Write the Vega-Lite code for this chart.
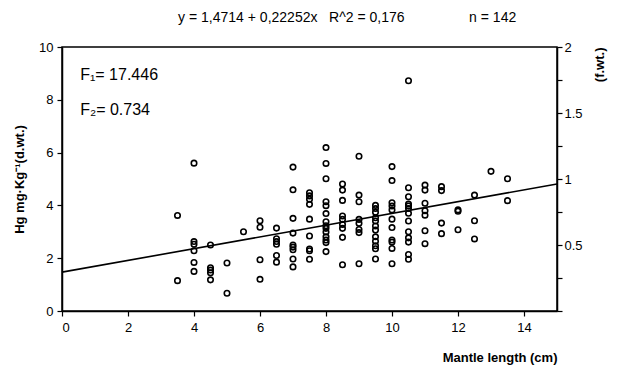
{
  "$schema": "https://vega.github.io/schema/vega-lite/v6.json",
  "width": 495,
  "height": 264,
  "autosize": {"type": "none"},
  "padding": {"left": 62, "top": 47, "right": 64, "bottom": 66},
  "background": "white",
  "config": {
    "font": "Liberation Sans",
    "view": {"stroke": "black", "strokeWidth": 1.5},
    "axis": {"domainColor": "black", "domainWidth": 1.5, "tickColor": "black", "tickWidth": 1.2, "labelColor": "black", "titleColor": "black", "labelFontSize": 13, "titleFontSize": 13, "titleFontWeight": "bold", "grid": false, "labelFont": "Liberation Sans", "titleFont": "Liberation Sans"}
  },
  "datasets": {
    "pts": [
      {"ml":3.5,"hg":3.62},{"ml":3.5,"hg":1.15},
      {"ml":4,"hg":5.6},{"ml":4,"hg":2.63},{"ml":4,"hg":2.53},{"ml":4,"hg":2.28},{"ml":4,"hg":1.84},{"ml":4,"hg":1.5},
      {"ml":4.5,"hg":2.5},{"ml":4.5,"hg":1.64},{"ml":4.5,"hg":1.55},{"ml":4.5,"hg":1.45},{"ml":4.5,"hg":1.18},
      {"ml":5,"hg":1.82},{"ml":5,"hg":0.67},
      {"ml":5.5,"hg":3.0},
      {"ml":6,"hg":3.42},{"ml":6,"hg":3.17},{"ml":6,"hg":1.94},{"ml":6,"hg":1.2},
      {"ml":6.5,"hg":3.14},{"ml":6.5,"hg":2.74},{"ml":6.5,"hg":2.63},{"ml":6.5,"hg":2.53},{"ml":6.5,"hg":2.1},{"ml":6.5,"hg":1.85},
      {"ml":7,"hg":5.45},{"ml":7,"hg":4.59},{"ml":7,"hg":3.51},{"ml":7,"hg":2.95},{"ml":7,"hg":2.5},{"ml":7,"hg":2.42},{"ml":7,"hg":2.32},{"ml":7,"hg":1.97},{"ml":7,"hg":1.67},
      {"ml":7.5,"hg":4.48},{"ml":7.5,"hg":4.36},{"ml":7.5,"hg":4.23},{"ml":7.5,"hg":4.04},{"ml":7.5,"hg":3.48},{"ml":7.5,"hg":2.84},{"ml":7.5,"hg":2.35},{"ml":7.5,"hg":2.28},{"ml":7.5,"hg":1.96},
      {"ml":8,"hg":6.19},{"ml":8,"hg":5.59},{"ml":8,"hg":5.01},{"ml":8,"hg":4.14},{"ml":8,"hg":3.99},{"ml":8,"hg":3.69},{"ml":8,"hg":3.38},{"ml":8,"hg":3.23},{"ml":8,"hg":3.13},{"ml":8,"hg":2.99},{"ml":8,"hg":2.81},{"ml":8,"hg":2.69},{"ml":8,"hg":2.59},{"ml":8,"hg":2.25},
      {"ml":8.5,"hg":4.81},{"ml":8.5,"hg":4.58},{"ml":8.5,"hg":4.19},{"ml":8.5,"hg":3.6},{"ml":8.5,"hg":3.47},{"ml":8.5,"hg":3.28},{"ml":8.5,"hg":3.13},{"ml":8.5,"hg":2.79},{"ml":8.5,"hg":1.75},
      {"ml":9,"hg":5.86},{"ml":9,"hg":4.39},{"ml":9,"hg":4.14},{"ml":9,"hg":3.47},{"ml":9,"hg":3.32},{"ml":9,"hg":3.09},{"ml":9,"hg":2.97},{"ml":9,"hg":1.79},
      {"ml":9.5,"hg":4.0},{"ml":9.5,"hg":3.88},{"ml":9.5,"hg":3.74},{"ml":9.5,"hg":3.53},{"ml":9.5,"hg":3.41},{"ml":9.5,"hg":3.22},{"ml":9.5,"hg":3.07},{"ml":9.5,"hg":2.81},{"ml":9.5,"hg":2.64},{"ml":9.5,"hg":2.47},{"ml":9.5,"hg":2.36},{"ml":9.5,"hg":1.97},
      {"ml":10,"hg":5.47},{"ml":10,"hg":4.94},{"ml":10,"hg":4.1},{"ml":10,"hg":3.98},{"ml":10,"hg":3.83},{"ml":10,"hg":3.48},{"ml":10,"hg":3.16},{"ml":10,"hg":2.69},{"ml":10,"hg":2.61},{"ml":10,"hg":2.37},{"ml":10,"hg":1.79},
      {"ml":10.5,"hg":8.72},{"ml":10.5,"hg":4.67},{"ml":10.5,"hg":4.33},{"ml":10.5,"hg":4.05},{"ml":10.5,"hg":3.98},{"ml":10.5,"hg":3.88},{"ml":10.5,"hg":3.7},{"ml":10.5,"hg":3.41},{"ml":10.5,"hg":3.0},{"ml":10.5,"hg":2.77},{"ml":10.5,"hg":2.61},{"ml":10.5,"hg":2.14},{"ml":10.5,"hg":1.96},
      {"ml":11,"hg":4.77},{"ml":11,"hg":4.58},{"ml":11,"hg":4.08},{"ml":11,"hg":3.8},{"ml":11,"hg":3.63},{"ml":11,"hg":3.04},{"ml":11,"hg":2.55},
      {"ml":11.5,"hg":4.71},{"ml":11.5,"hg":4.56},{"ml":11.5,"hg":3.33},{"ml":11.5,"hg":2.93},
      {"ml":12,"hg":3.83},{"ml":12,"hg":3.78},{"ml":12,"hg":3.08},
      {"ml":12.5,"hg":4.39},{"ml":12.5,"hg":3.42},{"ml":12.5,"hg":2.73},
      {"ml":13,"hg":5.29},
      {"ml":13.5,"hg":5.01},{"ml":13.5,"hg":4.18}
    ]
  },
  "layer": [
    {
      "layer": [
        {
          "data": {"name": "pts"},
          "mark": {"type": "point", "shape": "circle", "filled": false, "stroke": "black", "strokeWidth": 1.6, "size": 30, "opacity": 1},
          "encoding": {
            "x": {"field": "ml", "type": "quantitative", "scale": {"domain": [0, 15], "nice": false, "zero": false},
              "axis": {"title": "Mantle length (cm)", "values": [0,1,2,3,4,5,6,7,8,9,10,11,12,13,14,15], "labelExpr": "datum.value % 2 === 0 && datum.value < 15 ? datum.label : ''", "tickSize": 5, "labelPadding": 5, "titleAnchor": "end", "titlePadding": 17}},
            "y": {"field": "hg", "type": "quantitative", "scale": {"domain": [0, 10], "nice": false},
              "axis": {"title": "Hg mg·Kg⁻¹(d.wt.)", "values": [0,1,2,3,4,5,6,7,8,9,10], "labelExpr": "datum.value % 2 === 0 ? datum.label : ''", "tickSize": 5, "labelPadding": 4, "titlePadding": 12}}
          }
        },
        {
          "data": {"values": [{"ml": 0, "hg": 1.4714}, {"ml": 15, "hg": 4.8092}]},
          "mark": {"type": "line", "color": "black", "strokeWidth": 1.6},
          "encoding": {"x": {"field": "ml", "type": "quantitative"}, "y": {"field": "hg", "type": "quantitative"}}
        },
        {
          "data": {"values": [{"ml": 0.55, "hg": 8.95, "t": "F₁= 17.446"}, {"ml": 0.55, "hg": 7.62, "t": "F₂= 0.734"}]},
          "mark": {"type": "text", "align": "left", "baseline": "middle", "fontSize": 16, "color": "black", "font": "Liberation Sans"},
          "encoding": {"x": {"field": "ml", "type": "quantitative"}, "y": {"field": "hg", "type": "quantitative"}, "text": {"field": "t"}}
        },
        {
          "data": {"values": [{"ml": 6.95, "hg": 11.1, "t": "y = 1,4714 + 0,22252x\u00a0\u00a0\u00a0R^2 = 0,176"}, {"ml": 13.05, "hg": 11.1, "t": "n = 142"}]},
          "mark": {"type": "text", "align": "center", "baseline": "middle", "fontSize": 14, "color": "black", "font": "Liberation Sans"},
          "encoding": {"x": {"field": "ml", "type": "quantitative"}, "y": {"field": "hg", "type": "quantitative"}, "text": {"field": "t"}}
        }
      ]
    },
    {
      "data": {"values": [{"ml": 0, "fwt": 0}, {"ml": 15, "fwt": 2}]},
      "mark": {"type": "point", "opacity": 0},
      "encoding": {
        "x": {"field": "ml", "type": "quantitative"},
        "y": {"field": "fwt", "type": "quantitative", "scale": {"domain": [0, 2], "nice": false},
          "axis": {"orient": "right", "title": "(f.wt.)", "format": "~g", "values": [0, 0.25, 0.5, 0.75, 1, 1.25, 1.5, 1.75, 2], "labelExpr": "datum.value > 0 && (datum.value * 2) % 1 === 0 ? datum.label : ''", "tickSize": 5, "labelPadding": 2, "titleAngle": -90, "titleAnchor": "end", "titlePadding": 24}}
      }
    }
  ],
  "resolve": {"scale": {"y": "independent"}}
}
